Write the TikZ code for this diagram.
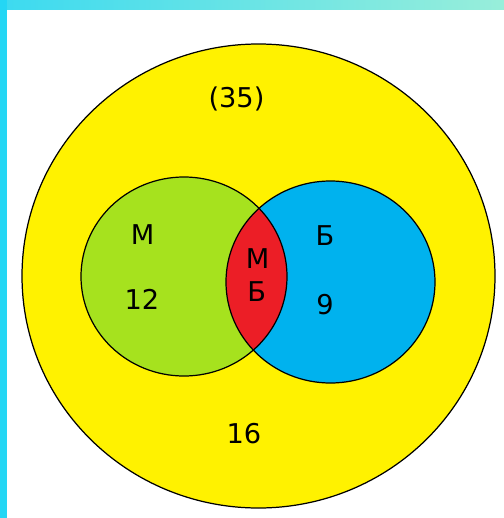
\documentclass[tikz,border=0pt]{standalone}
\usepackage{fontspec}
\setmainfont{DejaVu Sans}
\definecolor{VennYellow}{RGB}{255,242,0}
\definecolor{VennGreen} {RGB}{166,226,30}
\definecolor{VennBlue}  {RGB}{0,178,238}
\definecolor{VennRed}   {RGB}{236,30,38}
\definecolor{FrameSide} {RGB}{36,214,244}
\definecolor{FrameLeft} {RGB}{60,218,240}
\definecolor{FrameRight}{RGB}{152,238,218}
\usetikzlibrary{positioning}

\begin{document}
\begin{tikzpicture}[x=0.02cm,y=-0.02cm,
  lbl/.style={font=\fontsize{15.5}{18}\selectfont,inner sep=0pt,text=black},
  rim/.style={draw=black,line width=0.7pt}]
  \useasboundingbox (0,0) rectangle (504,518);
  \fill[white] (0,0) rectangle (504,518);
  % frame strips
  \shade[left color=FrameLeft,right color=FrameRight] (0,0) rectangle (504,9);
  \fill[FrameSide] (0,0) rectangle (7,518);
  % sets
  \filldraw[rim,fill=VennYellow] (258.5,276) ellipse [x radius=236.5,y radius=232];
  \fill[VennGreen] (184,276.5) ellipse [x radius=103,y radius=99.5];
  \fill[VennBlue] (330.5,282) ellipse [x radius=104.5,y radius=101];
  \begin{scope}
    \clip (184,276.5) ellipse [x radius=103,y radius=99.5];
    \fill[VennRed] (330.5,282) ellipse [x radius=104.5,y radius=101];
  \end{scope}
  \draw[rim] (184,276.5) ellipse [x radius=103,y radius=99.5];
  \draw[rim] (330.5,282) ellipse [x radius=104.5,y radius=101];
  % labels
  \node[lbl] (total) at (236.5,99) {(35)};
  \node[lbl] (mLabel) at (142.5,235) {М};
  \node[lbl] (mCount) at (142,299) {12};
  \node[lbl] (mbTop) at (257.5,258.5) {М};
  \node[lbl] (mbBottom) at (256.7,291.5) {Б};
  \node[lbl] (bLabel) at (325,236) {Б};
  \node[lbl] (bCount) at (325,305) {9};
  \node[lbl] (rest) at (244,434) {16};
\end{tikzpicture}
\end{document}
